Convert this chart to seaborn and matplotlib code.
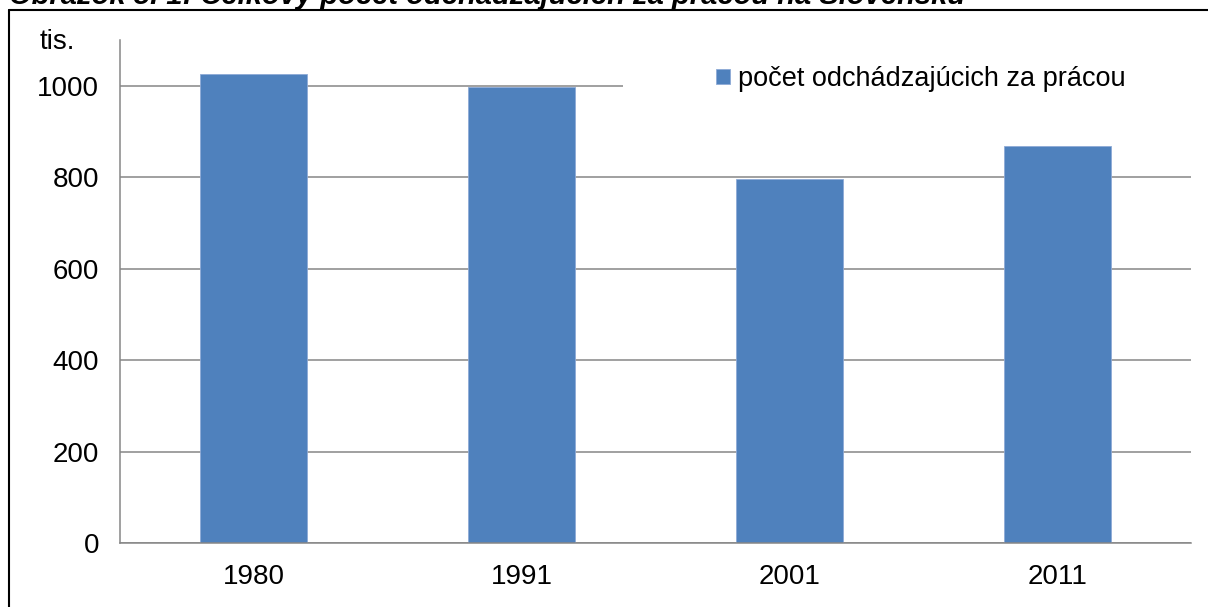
import matplotlib
matplotlib.use("Agg")
import matplotlib.pyplot as plt
import matplotlib.transforms as mtransforms
from matplotlib.patches import Rectangle
from matplotlib.lines import Line2D
import pandas as pd
import seaborn as sns

# Commuting totals (thousands)
years = ["1980", "1991", "2001", "2011"]
commuters = [1026, 998, 796, 868]
series_label = "počet odchádzajúcich za prácou"
y_ticks = [0, 200, 400, 600, 800, 1000]
unit_label = "tis."
title_text = "Obrázok 5. 1: Celkový počet odchádzajúcich za prácou na Slovensku"

sns.set_theme(style="white")
plt.rcParams["font.family"] = ["Liberation Sans", "DejaVu Sans"]
plt.rcParams["text.color"] = "black"

W, H = 1208, 607
fig = plt.figure(figsize=(W / 100, H / 100), dpi=100)
ax = fig.add_axes([120 / W, 1 - 543.3 / H, (1191 - 120) / W, (543.3 - 40) / H])

df = pd.DataFrame({"rok": years, "pocet": commuters})
sns.barplot(data=df, x="rok", y="pocet", color="#4F81BD", saturation=1,
            width=0.4, label=series_label, ax=ax, zorder=2,
            edgecolor="#8EAAD6", linewidth=0.6)

grid_col = "#868686"
ax.set_ylim(0, 1100)
ax.set_xlim(-0.5, len(years) - 0.5)
ax.set_yticks(y_ticks)
ax.set_yticklabels([str(t) for t in y_ticks])
ax.yaxis.grid(True, color=grid_col, linewidth=1.1)
ax.xaxis.grid(False)
ax.set_axisbelow(True)
ax.set_xlabel("")
ax.set_ylabel("")

for side in ("top", "right"):
    ax.spines[side].set_visible(False)
for side in ("left", "bottom"):
    ax.spines[side].set_color(grid_col)
    ax.spines[side].set_linewidth(1.1)

ax.tick_params(axis="y", which="major", length=5, width=1.1, color=grid_col,
               pad=10, labelsize=20, labelcolor="black", direction="out")
ax.set_xticks([i - 0.5 for i in range(len(years) + 1)], minor=True)
ax.tick_params(axis="x", which="minor", length=5, width=1.1, color=grid_col,
               direction="out")
ax.tick_params(axis="x", which="major", length=0, pad=15, labelsize=20,
               labelcolor="black")

# white panel behind the legend, hiding the gridline there
trans = mtransforms.blended_transform_factory(ax.transAxes, ax.transData)
ax.add_patch(Rectangle((0.4697, 935), 0.55, 150, transform=trans,
                       facecolor="white", edgecolor="none", zorder=0.8,
                       clip_on=False))

leg = ax.legend(loc="center left", bbox_to_anchor=(716 / W, 1 - 79 / H),
                bbox_transform=fig.transFigure, frameon=False, fontsize=19.5,
                handlelength=0.5, handleheight=0.5, handletextpad=0.3,
                borderpad=0, borderaxespad=0, labelcolor="black")

fig.text(57 / W, 1 - 42 / H, unit_label, ha="center", va="center",
         fontsize=20, color="black")

# outer frame (top and left edges) and the caption running off the top edge
fig.add_artist(Line2D([9 / W, 1.01], [1 - 9.5 / H, 1 - 9.5 / H],
                      transform=fig.transFigure, color="black", linewidth=1.5))
fig.add_artist(Line2D([9 / W, 9 / W], [1 - 9.5 / H, -0.01],
                      transform=fig.transFigure, color="black", linewidth=1.5))
fig.text(9 / W, 1 - 4.5 / H, title_text, ha="left", va="baseline",
         fontsize=21, fontweight="bold", fontstyle="italic", color="black")

fig.savefig("out.png", dpi=100, facecolor="white")
